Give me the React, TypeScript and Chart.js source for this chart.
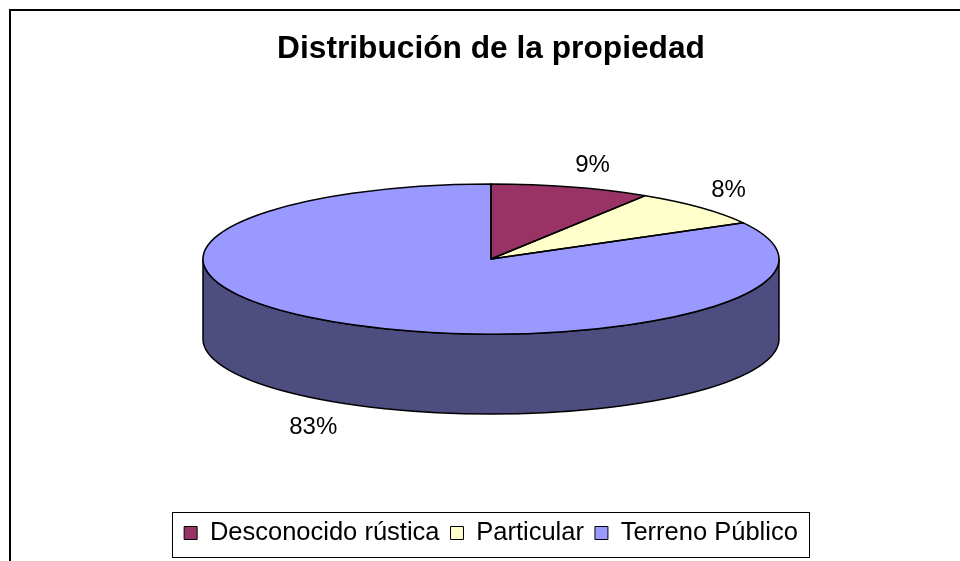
import React, { useEffect, useRef } from 'react';
import { Chart, registerables } from 'chart.js';

Chart.register(...registerables);

const TITLE = 'Distribución de la propiedad';
const CATEGORIES = ['Desconocido rústica', 'Particular', 'Terreno Público'];
const VALUES = [9, 8, 83];
const COLORS = ['#993366', '#FFFFCC', '#9999FF'];

const FONT = '"Liberation Sans", Arial, Helvetica, sans-serif';

function darken(hex: string, f: number): string {
  const h = hex.replace('#', '');
  const r = Math.round(parseInt(h.slice(0, 2), 16) * f);
  const g = Math.round(parseInt(h.slice(2, 4), 16) * f);
  const b = Math.round(parseInt(h.slice(4, 6), 16) * f);
  return `rgb(${r},${g},${b})`;
}

function geom(chart: any, opts: any) {
  const { left, right, top, bottom } = chart.chartArea;
  const h = bottom - top;
  const rx = h / (2 * opts.tilt + opts.depth);
  const ry = rx * opts.tilt;
  const d = rx * opts.depth;
  return { cx: (left + right) / 2, cy: top + ry, rx, ry, d };
}

const pie3d = {
  id: 'pie3d',
  beforeDraw(chart: any) {
    const ctx = chart.ctx;
    ctx.save();
    ctx.fillStyle = '#fff';
    ctx.fillRect(0, 0, chart.width, chart.height);
    ctx.lineWidth = 2;
    ctx.strokeStyle = '#000';
    ctx.strokeRect(10, 10, chart.width + 40, chart.height + 40);
    ctx.restore();
  },
  beforeDatasetsDraw(chart: any, _args: any, opts: any) {
    const ctx = chart.ctx;
    const meta = chart.getDatasetMeta(0);
    const { cx, cy, rx, ry, d } = geom(chart, opts);
    ctx.save();
    ctx.lineWidth = opts.lineWidth;
    ctx.strokeStyle = '#000';
    ctx.lineJoin = 'round';
    meta.data.forEach((arc: any) => {
      const a0 = Math.max(arc.startAngle, 0);
      const a1 = Math.min(arc.endAngle, Math.PI);
      if (a1 <= a0) return;
      ctx.beginPath();
      ctx.ellipse(cx, cy, rx, ry, 0, a0, a1, false);
      ctx.lineTo(cx + rx * Math.cos(a1), cy + d + ry * Math.sin(a1));
      ctx.ellipse(cx, cy + d, rx, ry, 0, a1, a0, true);
      ctx.closePath();
      ctx.fillStyle = darken(arc.options.backgroundColor, opts.shade);
      ctx.fill();
      ctx.stroke();
    });
    ctx.restore();
    const a = meta.data[0];
    const r = a.outerRadius;
    ctx.save();
    ctx.translate(cx, cy);
    ctx.scale(rx / r, ry / r);
    ctx.translate(-a.x, -a.y);
  },
  afterDatasetsDraw(chart: any, _args: any, opts: any) {
    const ctx = chart.ctx;
    ctx.restore();
    const meta = chart.getDatasetMeta(0);
    const { cx, cy, rx, ry, d } = geom(chart, opts);
    ctx.save();
    ctx.lineWidth = opts.lineWidth;
    ctx.strokeStyle = '#000';
    ctx.lineJoin = 'round';
    meta.data.forEach((arc: any) => {
      ctx.beginPath();
      ctx.moveTo(cx, cy);
      ctx.ellipse(cx, cy, rx, ry, 0, arc.startAngle, arc.endAngle, false);
      ctx.closePath();
      ctx.stroke();
    });
    const data = chart.data.datasets[0].data as number[];
    const total = data.reduce((s, v) => s + v, 0);
    ctx.fillStyle = '#000';
    ctx.font = `${opts.labelSize}px ${FONT}`;
    ctx.textBaseline = 'alphabetic';
    const capH = opts.labelSize * 0.716;
    meta.data.forEach((arc: any, i: number) => {
      const mid = (arc.startAngle + arc.endAngle) / 2;
      const c = Math.cos(mid);
      const s = Math.sin(mid);
      const x = cx + (rx + opts.labelGapX) * c;
      const y = cy + (ry + opts.labelGapY) * s + (s > 0 ? d : 0);
      ctx.textAlign = c >= 0 ? 'left' : 'right';
      const baseY = s < 0 ? y : y + capH;
      ctx.fillText(Math.round((data[i] / total) * 100) + '%', x, baseY);
    });
    ctx.restore();
  },
  afterDraw(chart: any) {
    const lg = chart.legend;
    if (!lg || !lg.legendHitBoxes || !lg.legendHitBoxes.length) return;
    const hb = lg.legendHitBoxes;
    const first = hb[0];
    const last = hb[hb.length - 1];
    const ctx = chart.ctx;
    ctx.save();
    ctx.lineWidth = 1;
    ctx.strokeStyle = '#000';
    const l = Math.round(first.left - 12) + 0.5;
    const rgt = Math.round(last.left + last.width + 11) + 0.5;
    const t = Math.round(first.top - 8.5) + 0.5;
    const b = Math.round(first.top + first.height + 11) + 0.5;
    ctx.strokeRect(l, t, rgt - l, b - t);
    ctx.restore();
  },
};

export default function App() {
  const ref = useRef<HTMLCanvasElement | null>(null);
  useEffect(() => {
    if (!ref.current) return;
    const baseGen = (Chart as any).overrides.doughnut.plugins.legend.labels.generateLabels;
    const chart = new Chart(ref.current, {
      type: 'pie',
      data: {
        labels: CATEGORIES,
        datasets: [
          {
            data: VALUES,
            backgroundColor: COLORS,
            borderWidth: 0,
            clip: false as any,
          },
        ],
      },
      plugins: [pie3d as any],
      options: {
        responsive: false,
        animation: false,
        events: [],
        layout: { padding: { left: 22, right: 0, top: 0, bottom: 5.25 } },
        plugins: {
          tooltip: { enabled: false },
          title: {
            display: true,
            text: TITLE,
            color: '#000',
            font: { family: FONT, size: 31.7, weight: 'bold', lineHeight: 1.2 },
            padding: { top: 30, bottom: 115.96 },
          },
          subtitle: {
            display: true,
            text: ' ',
            position: 'bottom',
            weight: 500,
            font: { size: 10, lineHeight: 1 },
            padding: { top: 85.25, bottom: 0 },
          },
          legend: {
            display: true,
            position: 'bottom',
            labels: {
              boxWidth: 13,
              boxHeight: 13,
              padding: 11,
              color: '#000',
              font: { family: FONT, size: 25.5 },
              generateLabels: (c: any) =>
                baseGen(c).map((it: any) => ({ ...it, strokeStyle: '#000', lineWidth: 1 })),
            },
          },
          pie3d: {
            tilt: 0.2604,
            depth: 0.2778,
            shade: 0.5,
            lineWidth: 1.5,
            labelSize: 24,
            labelGapX: 14,
            labelGapY: 15.5,
          },
        } as any,
      },
    });
    return () => chart.destroy();
  }, []);
  return (
    <div style={{ position: 'absolute', left: 0, top: 0, width: 960, height: 561, overflow: 'hidden', background: '#fff' }}>
      <canvas ref={ref} width={960} height={561} style={{ display: 'block' }} />
    </div>
  );
}
